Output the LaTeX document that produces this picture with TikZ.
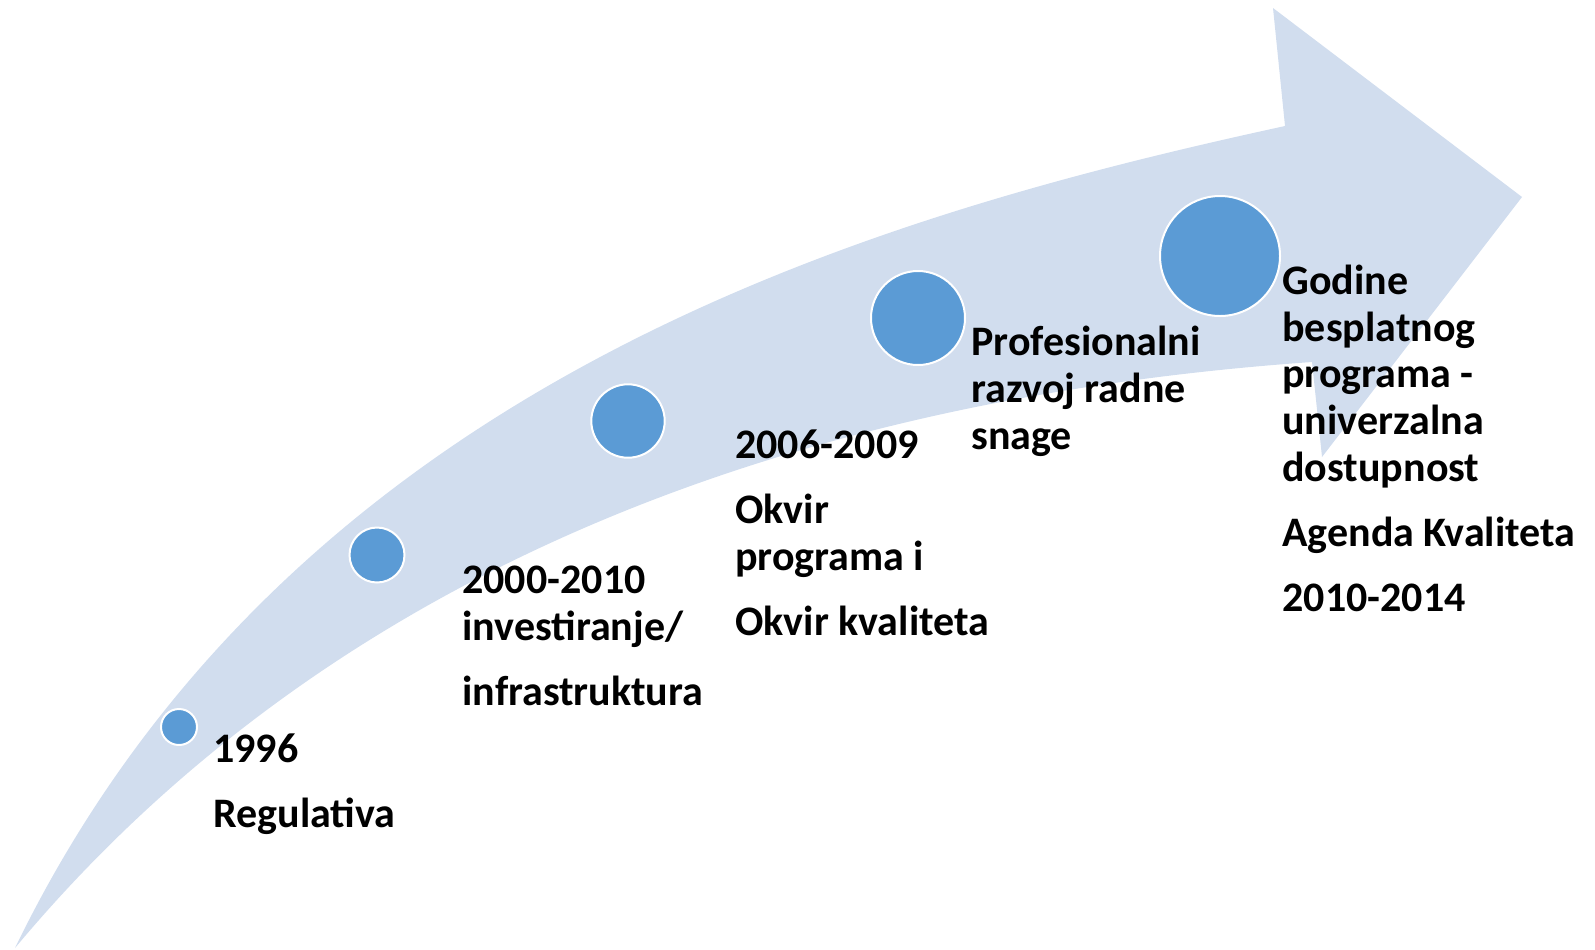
\documentclass[tikz,border=0pt]{standalone}
\usepackage{fontspec}
\setmainfont{Carlito}
\definecolor{bandblue}{HTML}{D1DDEE}
\definecolor{dotblue}{HTML}{5B9BD5}
\tikzset{
  dot/.style={circle,fill=dotblue,draw=white,line width=1pt,inner sep=0pt},
  lbl/.style={anchor=base west,align=left,inner sep=0pt,
    font=\fontsize{21}{23.4}\selectfont\bfseries}
}
\begin{document}
\begin{tikzpicture}[x=0.5pt,y=-0.5pt]
\useasboundingbox (0,0) rectangle (1595,949);
\fill[bandblue] (15,948) .. controls (291,379) and (876,215) .. (1285,126)
  -- (1273,8) -- (1522,197) -- (1322,457) -- (1312,362)
  .. controls (816,397) and (342,556) .. (15,948) -- cycle;
\node[dot,minimum size=18pt] (c1) at (179,727) {};
\node[dot,minimum size=27.5pt] (c2) at (377,555) {};
\node[dot,minimum size=36.7pt] (c3) at (628,421) {};
\node[dot,minimum size=47pt] (c4) at (918,318) {};
\node[dot,minimum size=60pt] (c5) at (1220,256) {};
\node[lbl] (t1) at (213,827) {1996\\[9pt]Regulativa};
\node[lbl] (t2) at (462,705) {2000-2010\\investiranje/\\[9pt]infrastruktura};
\node[lbl] (t3) at (735,635) {2006-2009\\[9pt]Okvir\\programa i\\[9pt]Okvir kvaliteta};
\node[lbl] (t4) at (971,449) {Profesionalni\\razvoj radne\\snage};
\node[lbl] (t5) at (1282,611) {Godine\\besplatnog\\programa -\\univerzalna\\dostupnost\\[9pt]Agenda Kvaliteta\\[9pt]2010-2014};
\end{tikzpicture}
\end{document}
